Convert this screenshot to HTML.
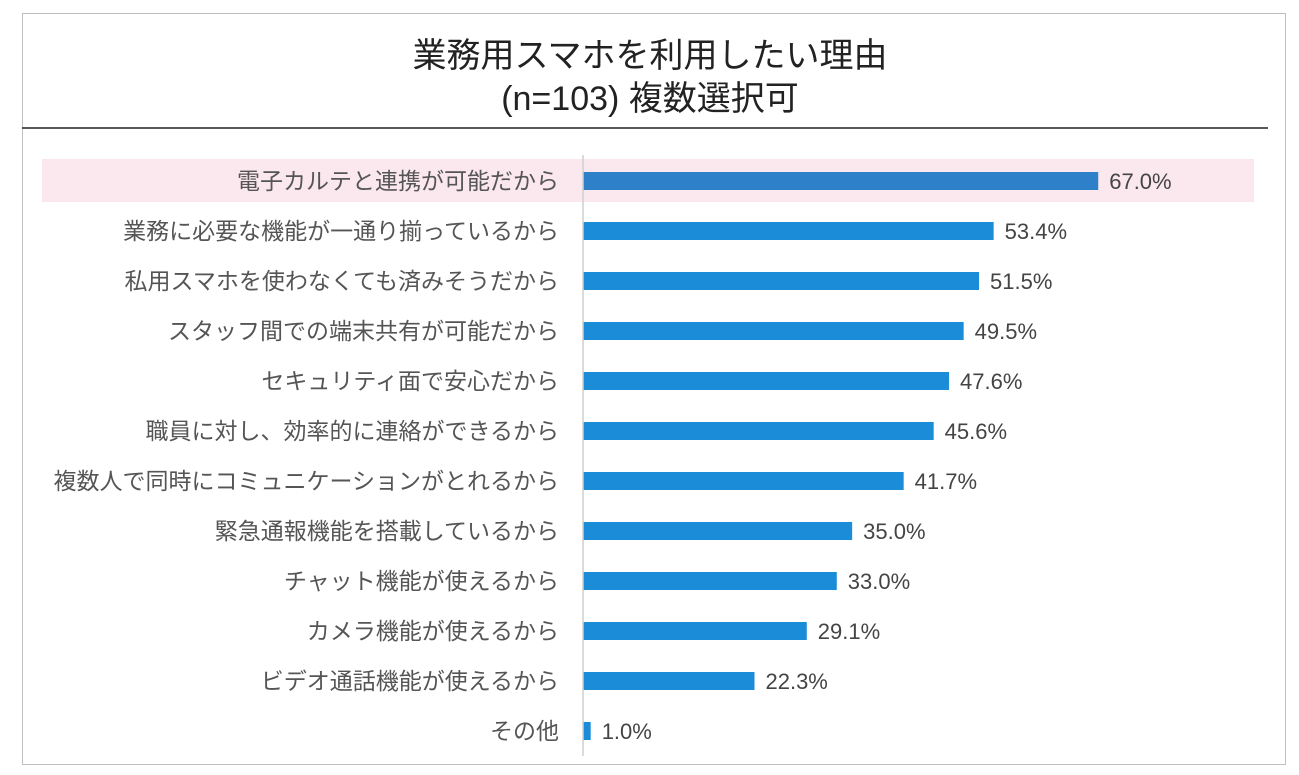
<!DOCTYPE html>
<html><head><meta charset="utf-8">
<style>
body{margin:0;background:#fff;font-family:"Liberation Sans","Noto Sans CJK JP",sans-serif;}
#wrap{position:relative;width:1299px;height:775px;overflow:hidden;}
</style></head>
<body>
<div id="wrap">
<svg id="chart" width="1299" height="775" xmlns="http://www.w3.org/2000/svg">
<rect x="22.5" y="13.5" width="1263" height="751" fill="#fff" stroke="#bfbfbf"/>
<text x="650" y="67" text-anchor="middle" font-size="34" fill="#222" font-family="Liberation Sans, Noto Sans CJK JP, sans-serif">業務用スマホを利用したい理由</text>
<text x="650" y="110" text-anchor="middle" font-size="34" fill="#222" font-family="Liberation Sans, Noto Sans CJK JP, sans-serif">(n=103) 複数選択可</text>
<line x1="22" y1="128" x2="1268" y2="128" stroke="#222" stroke-width="1.5"/>
<rect x="42" y="159" width="1212" height="43" fill="#fbe7ee"/>
<g id="bars"></g>
<line x1="583" y1="155" x2="583" y2="756" stroke="#cfcfcf" stroke-width="1.5"/>
</svg>
</div>
<script>
const categories=["電子カルテと連携が可能だから","業務に必要な機能が一通り揃っているから","私用スマホを使わなくても済みそうだから","スタッフ間での端末共有が可能だから","セキュリティ面で安心だから","職員に対し、効率的に連絡ができるから","複数人で同時にコミュニケーションがとれるから","緊急通報機能を搭載しているから","チャット機能が使えるから","カメラ機能が使えるから","ビデオ通話機能が使えるから","その他"];
const values=[67.0,53.4,51.5,49.5,47.6,45.6,41.7,35.0,33.0,29.1,22.3,1.0];
const x0=583, pxPer=7.69, y0=181, step=50, bh=18;
const xs=v=>x0+v*pxPer;
const ys=i=>y0+i*step;
const g=document.getElementById('bars');
const NS='http://www.w3.org/2000/svg';
categories.forEach((c,i)=>{
  const r=document.createElementNS(NS,'rect');
  r.setAttribute('x',x0);r.setAttribute('y',ys(i)-bh/2);
  r.setAttribute('width',xs(values[i])-x0);r.setAttribute('height',bh);
  r.setAttribute('fill',i===0?'#2e80c8':'#1a8cd8');
  
  
  g.appendChild(r);
  const t=document.createElementNS(NS,'text');
  t.setAttribute('x',x0-24);t.setAttribute('y',ys(i)+8);
  t.setAttribute('text-anchor','end');t.setAttribute('font-size','23');t.setAttribute('fill','#555');
  t.textContent=c;
  
  
  g.appendChild(t);
  const v=document.createElementNS(NS,'text');
  v.setAttribute('x',xs(values[i])+11);v.setAttribute('y',ys(i)+8);
  v.setAttribute('font-size','22');v.setAttribute('fill','#444');
  v.textContent=values[i].toFixed(1)+'%';
  
  
  g.appendChild(v);
});
</script>
</body></html>
